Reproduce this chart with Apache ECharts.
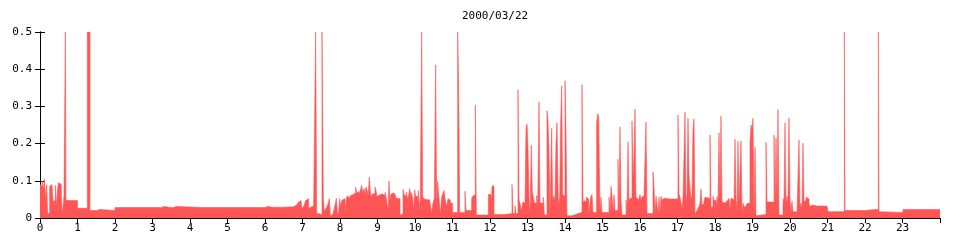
<!DOCTYPE html>
<html>
<head>
<meta charset="utf-8">
<script src="https://cdn.jsdelivr.net/npm/echarts@6/dist/echarts.min.js"></script>
<style>html,body{margin:0;padding:0;background:#fff}#c{width:960px;height:240px}</style>
</head>
<body>
<div id="c"></div>
<script>
const titleText = '2000/03/22';
const xTicks = [0,1,2,3,4,5,6,7,8,9,10,11,12,13,14,15,16,17,18,19,20,21,22,23];
const yTicks = [0, 0.1, 0.2, 0.3, 0.4, 0.5];

// hour at which each step starts
const stepHours = [
0.000,0.036,0.062,0.089,0.116,0.151,0.178,0.204,0.258,0.293,0.320,0.347,0.373,0.409,0.436,0.462,0.489,0.516,0.542,0.569,0.596,0.640,0.676,0.693,
1.000,1.262,1.333,1.510,1.537,1.560,1.587,2.000,2.290,2.317,3.240,3.267,3.280,3.307,3.490,3.517,3.570,3.624,4.380,4.407,4.560,4.587,
6.000,6.040,6.067,6.200,6.227,6.290,6.317,6.380,6.407,6.510,
6.756,6.800,6.844,6.889,6.933,6.960,6.987,7.013,7.049,7.084,7.129,7.164,7.200,7.244,7.298,7.351,7.378,7.404,7.520,7.556,7.582,7.609,7.644,7.680,7.716,7.742,7.769,7.804,7.840,7.876,7.902,7.938,7.964,7.991,
8.027,8.053,8.080,8.133,8.169,8.204,8.240,8.276,8.329,8.364,8.418,8.444,8.471,8.507,8.551,8.578,8.604,8.640,8.667,8.693,8.720,8.747,8.782,8.809,8.836,8.871,8.933,8.960,8.987,
9.022,9.058,9.084,9.120,9.147,9.173,9.200,9.227,9.253,9.280,9.307,9.333,9.360,9.387,9.413,9.440,9.467,9.493,9.520,9.600,9.644,9.680,9.707,9.733,9.769,9.804,9.831,9.858,9.884,9.911,9.938,9.964,9.991,
10.018,10.044,10.089,10.116,10.142,10.178,10.204,10.231,10.267,10.320,10.356,10.391,10.418,10.444,10.480,10.516,10.551,10.578,10.604,10.640,10.676,10.711,10.738,10.773,10.809,10.844,10.880,10.907,10.942,10.978,
11.004,11.138,11.164,11.191,11.333,11.360,11.511,11.547,11.582,11.609,11.636,11.956,
12.027,12.053,12.080,12.107,12.267,12.320,12.400,12.587,12.613,12.667,12.693,12.747,12.773,12.800,12.836,12.871,12.907,12.933,12.960,12.987,
13.013,13.040,13.067,13.102,13.129,13.156,13.182,13.244,13.271,13.307,13.333,13.422,13.449,13.484,13.520,13.547,13.573,13.600,13.644,13.671,13.698,13.733,13.760,13.787,13.822,13.858,13.884,13.911,13.938,13.964,
14.000,14.027,14.053,14.178,14.293,14.347,14.453,14.480,14.507,14.542,14.569,14.596,14.631,14.684,14.720,14.747,14.844,14.871,14.898,14.933,14.960,14.987,
15.173,15.200,15.227,15.253,15.280,15.307,15.333,15.413,15.440,15.467,15.493,15.520,15.627,15.653,15.680,15.707,15.733,15.787,15.813,15.840,15.867,15.893,15.920,15.947,
16.000,16.027,16.053,16.107,16.160,16.187,16.267,16.320,16.347,16.373,16.400,16.427,16.480,16.507,16.533,16.560,16.587,16.613,16.667,16.800,16.853,
17.013,17.040,17.067,17.093,17.120,17.147,17.173,17.200,17.227,17.253,17.280,17.307,17.333,17.360,17.387,17.413,17.440,17.467,17.493,17.520,17.547,17.573,17.600,17.627,17.653,17.680,17.707,17.733,17.760,17.867,17.893,17.920,17.947,17.973,
18.027,18.053,18.080,18.107,18.133,18.160,18.187,18.213,18.267,18.293,18.320,18.373,18.400,18.427,18.453,18.507,18.533,18.560,18.587,18.613,18.640,18.693,18.720,18.747,18.773,18.800,18.827,18.853,18.880,18.933,18.960,18.987,
19.013,19.040,19.067,19.093,19.120,19.360,19.387,19.573,19.600,19.627,19.653,19.680,19.707,19.813,19.840,19.867,19.893,19.920,19.947,19.973,
20.000,20.027,20.053,20.080,20.187,20.213,20.240,20.267,20.293,20.320,20.347,20.373,20.400,20.427,20.453,20.507,20.533,20.560,20.587,20.720,20.747,20.800,20.827,20.987,
21.013,21.111,21.138,21.449,21.467,22.000,22.027,22.053,22.267,22.293,22.356,22.373,22.400,23.013,24.000
];
// value of each step
const stepValues = [
0.090,0.086,0.100,0.075,0.105,0.050,0.090,0.012,0.085,0.090,0.095,0.045,0.047,0.088,0.030,0.072,0.095,0.098,0.090,0.055,0.011,0.060,0.5,0.047,
0.026,0.5,0.020,0.023,0.020,0.023,0.020,0.028,0.031,0.028,0.031,0.028,0.031,0.028,0.031,0.028,0.031,0.028,0.031,0.028,0.031,0.028,
0.029,0.031,0.029,0.031,0.029,0.031,0.029,0.031,0.029,0.030,
0.032,0.035,0.038,0.042,0.047,0.052,0.022,0.029,0.035,0.047,0.052,0.026,0.030,0.032,0.040,0.5,0.013,0.0095,0.5,0.052,0.017,0.023,0.029,0.038,0.052,0.006,0.0095,0.013,0.023,0.038,0.053,0.006,0.015,0.052,
0.032,0.048,0.052,0.011,0.053,0.060,0.053,0.060,0.064,0.068,0.083,0.067,0.071,0.064,0.077,0.088,0.068,0.079,0.064,0.083,0.076,0.056,0.110,0.071,0.056,0.065,0.083,0.074,0.058,
0.062,0.058,0.065,0.060,0.069,0.060,0.069,0.058,0.060,0.020,0.100,0.047,0.064,0.063,0.068,0.058,0.065,0.053,0.052,0.008,0.011,0.077,0.062,0.059,0.069,0.050,0.062,0.079,0.062,0.068,0.051,0.022,0.076,
0.058,0.059,0.074,0.024,0.059,0.5,0.058,0.052,0.049,0.053,0.049,0.053,0.051,0.013,0.040,0.053,0.412,0.024,0.099,0.053,0.011,0.056,0.065,0.074,0.047,0.030,0.052,0.048,0.042,0.039,
0.015,0.5,0.355,0.015,0.072,0.020,0.053,0.059,0.063,0.304,0.008,0.063,
0.015,0.085,0.087,0.0095,0.012,0.0095,0.012,0.090,0.012,0.033,0.012,0.345,0.048,0.040,0.017,0.042,0.040,0.042,0.242,0.253,
0.190,0.056,0.0095,0.196,0.069,0.056,0.040,0.060,0.025,0.312,0.040,0.056,0.0095,0.007,0.288,0.260,0.180,0.0095,0.241,0.048,0.060,0.049,0.204,0.256,0.033,0.056,0.250,0.355,0.063,0.058,
0.369,0.234,0.006,0.0095,0.012,0.015,0.358,0.040,0.047,0.043,0.056,0.051,0.0095,0.056,0.063,0.015,0.256,0.280,0.274,0.015,0.056,0.015,
0.056,0.015,0.085,0.060,0.020,0.063,0.020,0.158,0.020,0.245,0.051,0.008,0.048,0.008,0.205,0.042,0.053,0.261,0.106,0.175,0.293,0.056,0.051,0.042,
0.063,0.048,0.058,0.053,0.258,0.012,0.0095,0.012,0.124,0.085,0.012,0.058,0.012,0.056,0.012,0.058,0.049,0.053,0.051,0.047,0.051,
0.277,0.065,0.056,0.051,0.026,0.056,0.051,0.285,0.047,0.062,0.268,0.113,0.110,0.051,0.060,0.237,0.266,0.012,0.015,0.020,0.025,0.031,0.040,0.078,0.035,0.039,0.046,0.056,0.053,0.223,0.029,0.030,0.059,0.047,
0.007,0.058,0.042,0.229,0.048,0.274,0.043,0.040,0.044,0.040,0.046,0.053,0.020,0.053,0.049,0.038,0.212,0.051,0.018,0.207,0.040,0.207,0.011,0.040,0.029,0.032,0.035,0.039,0.040,0.204,0.250,0.237,
0.268,0.008,0.190,0.006,0.0095,0.204,0.043,0.223,0.026,0.215,0.042,0.292,0.008,0.052,0.040,0.256,0.040,0.059,0.046,0.269,
0.046,0.018,0.046,0.017,0.015,0.017,0.210,0.026,0.040,0.026,0.201,0.044,0.047,0.056,0.051,0.040,0.030,0.035,0.032,0.036,0.032,0.030,0.032,0.030,
0.017,0.020,0.017,0.5,0.020,0.023,0.020,0.023,0.020,0.023,0.5,0.017,0.015,0.023,0.023
];

// build step outline: each value holds from its start hour to the next start hour
const seriesData = [];
for (let i = 0; i < stepHours.length - 1; i++) {
  seriesData.push([stepHours[i], stepValues[i]]);
  seriesData.push([stepHours[i + 1], stepValues[i]]);
}
const red = '#ff5555';
const font = 'DejaVu Sans Mono';

const chart = echarts.init(document.getElementById('c'), null, {renderer: 'canvas'});
chart.setOption({
  animation: false,
  backgroundColor: '#fff',
  title: {
    text: titleText,
    left: 457,
    top: 6,
    textStyle: {fontFamily: font, fontSize: 11, fontWeight: 'normal', color: '#000'}
  },
  grid: {left: 40, right: 20, top: 32, bottom: 22, containLabel: false},
  xAxis: [
    {
      type: 'value', min: 0, max: 24, interval: 1, position: 'bottom',
      axisLine: {show: true, lineStyle: {color: '#000', width: 1}},
      axisTick: {show: true, inside: true, length: 5, lineStyle: {color: '#000'}},
      axisLabel: {
        fontFamily: font, fontSize: 11, color: '#000', margin: 5,
        showMaxLabel: false,
        formatter: v => (xTicks.indexOf(v) >= 0 ? String(v) : '')
      },
      splitLine: {show: false}
    },
    {
      type: 'value', min: 0, max: 24, interval: 1, position: 'top',
      axisLine: {show: true, lineStyle: {color: '#000', width: 1}},
      axisTick: {show: true, inside: true, length: 5, lineStyle: {color: '#000'}},
      axisLabel: {show: false},
      splitLine: {show: false}
    }
  ],
  yAxis: [
    {
      type: 'value', min: 0, max: 0.5, interval: 0.1, position: 'left',
      axisLine: {show: true, lineStyle: {color: '#000', width: 1}},
      axisTick: {show: true, inside: true, length: 5, lineStyle: {color: '#000'}},
      axisLabel: {
        fontFamily: font, fontSize: 11, color: '#000', margin: 8,
        formatter: v => {
          const t = yTicks.find(y => Math.abs(y - v) < 1e-9);
          return t === undefined ? '' : (t === 0 ? '0' : t.toFixed(1));
        }
      },
      splitLine: {show: false}
    },
    {
      type: 'value', min: 0, max: 0.5, interval: 0.1, position: 'right',
      axisLine: {show: true, lineStyle: {color: '#000', width: 1}},
      axisTick: {show: true, inside: true, length: 5, lineStyle: {color: '#000'}},
      axisLabel: {show: false},
      splitLine: {show: false}
    }
  ],
  series: [{
    type: 'line',
    xAxisIndex: 0, yAxisIndex: 0,
    data: seriesData,
    showSymbol: false,
    symbol: 'none',
    sampling: null,
    clip: true,
    lineStyle: {width: 0.6, color: red},
    areaStyle: {color: red, opacity: 1},
    z: 3
  }]
});
</script>
</body>
</html>
